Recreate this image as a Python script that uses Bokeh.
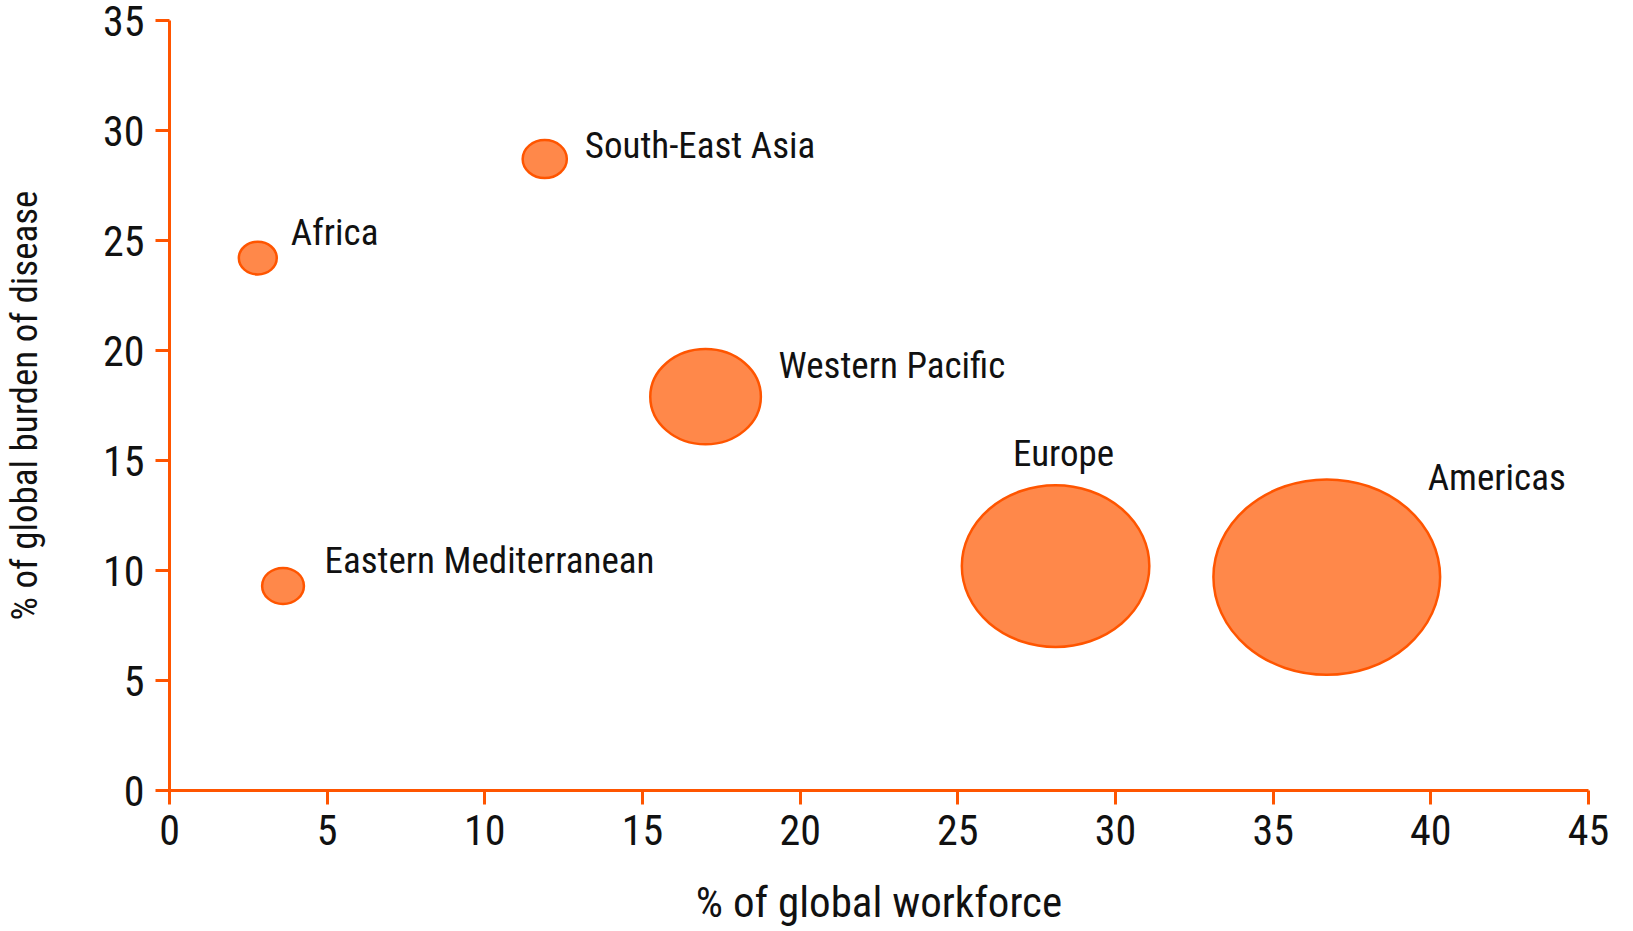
import numpy as np
from bokeh.plotting import figure
from bokeh.models import Range1d, FixedTicker, ColumnDataSource, LabelSet
from bokeh.core.properties import value
from bokeh.embed import file_html
from bokeh.resources import INLINE

# ---- data ----
regions = ["Africa", "South-East Asia", "Eastern Mediterranean",
           "Western Pacific", "Europe", "Americas"]
workforce_pct = [2.8, 11.9, 3.6, 17.0, 28.1, 36.7]      # % of global workforce
burden_pct = [24.2, 28.7, 9.3, 17.9, 10.2, 9.7]          # % of global burden of disease
expenditure_pct = [1.4, 1.9, 1.7, 11.9, 34.2, 50.0]      # bubble size (relative)
x_ticks = [0, 5, 10, 15, 20, 25, 30, 35, 40, 45]
y_ticks = [0, 5, 10, 15, 20, 25, 30, 35]
x_title = "% of global workforce"
y_title = "% of global burden of disease"

# ---- styling ----
FONT = "Roboto Condensed, DejaVu Sans Condensed, Roboto, sans-serif"
AXIS_COLOR = "#FF5500"
FILL = "#FF884A"
LINE = "#FF5500"
TEXT = "#111111"
bubble_scale = 32.06           # px diameter per sqrt(unit)
bubble_aspect = 1.16           # width / height
label_dx = [33, 40, 41.5, 73, -42.5, 101]
label_dy = [26, 13.5, 25, 31.5, 113, 100]

diam = [bubble_scale * np.sqrt(v) for v in expenditure_pct]
src = ColumnDataSource(dict(
    x=workforce_pct, y=burden_pct, name=regions,
    w=diam, h=[d / bubble_aspect for d in diam],
    dx=label_dx, dy=label_dy,
))

p = figure(frame_width=1419, frame_height=770,
           min_border_left=169, min_border_top=20, min_border_right=30,
           min_border_bottom=141,
           x_range=Range1d(0, 45), y_range=Range1d(0, 35),
           output_backend="svg", toolbar_location=None)

p.ellipse(x="x", y="y", width="w", height="h",
          width_units="screen", height_units="screen",
          fill_color=FILL, line_color=LINE, line_width=2.5, source=src)

labels = LabelSet(x="x", y="y", text="name", x_offset="dx", y_offset="dy",
                  source=src, text_font=value(FONT), text_font_size="37px",
                  text_color=TEXT, text_baseline="middle", text_align="left")
p.add_layout(labels)

p.xgrid.visible = False
p.ygrid.visible = False
p.outline_line_color = None
p.background_fill_color = "white"
p.border_fill_color = "white"

for ax, ticks in ((p.xaxis[0], x_ticks), (p.yaxis[0], y_ticks)):
    ax.ticker = FixedTicker(ticks=ticks)
    ax.axis_line_color = AXIS_COLOR
    ax.axis_line_width = 3
    ax.major_tick_line_color = AXIS_COLOR
    ax.major_tick_line_width = 3
    ax.major_tick_out = 14
    ax.major_tick_in = 0
    ax.minor_tick_line_color = None
    ax.major_label_text_font = FONT
    ax.major_label_text_font_size = "42px"
    ax.major_label_text_color = TEXT
    ax.axis_label_text_font = FONT
    ax.axis_label_text_font_style = "normal"
    ax.axis_label_text_color = TEXT

p.xaxis.axis_label = x_title
p.yaxis.axis_label = y_title
p.xaxis.axis_label_text_font_size = "43px"
p.yaxis.axis_label_text_font_size = "37px"
p.xaxis.major_label_standoff = 10
p.xaxis.axis_label_standoff = 29
p.yaxis.major_label_standoff = 11
p.yaxis.axis_label_standoff = 54

open("out.html", "w").write(file_html(p, INLINE))
